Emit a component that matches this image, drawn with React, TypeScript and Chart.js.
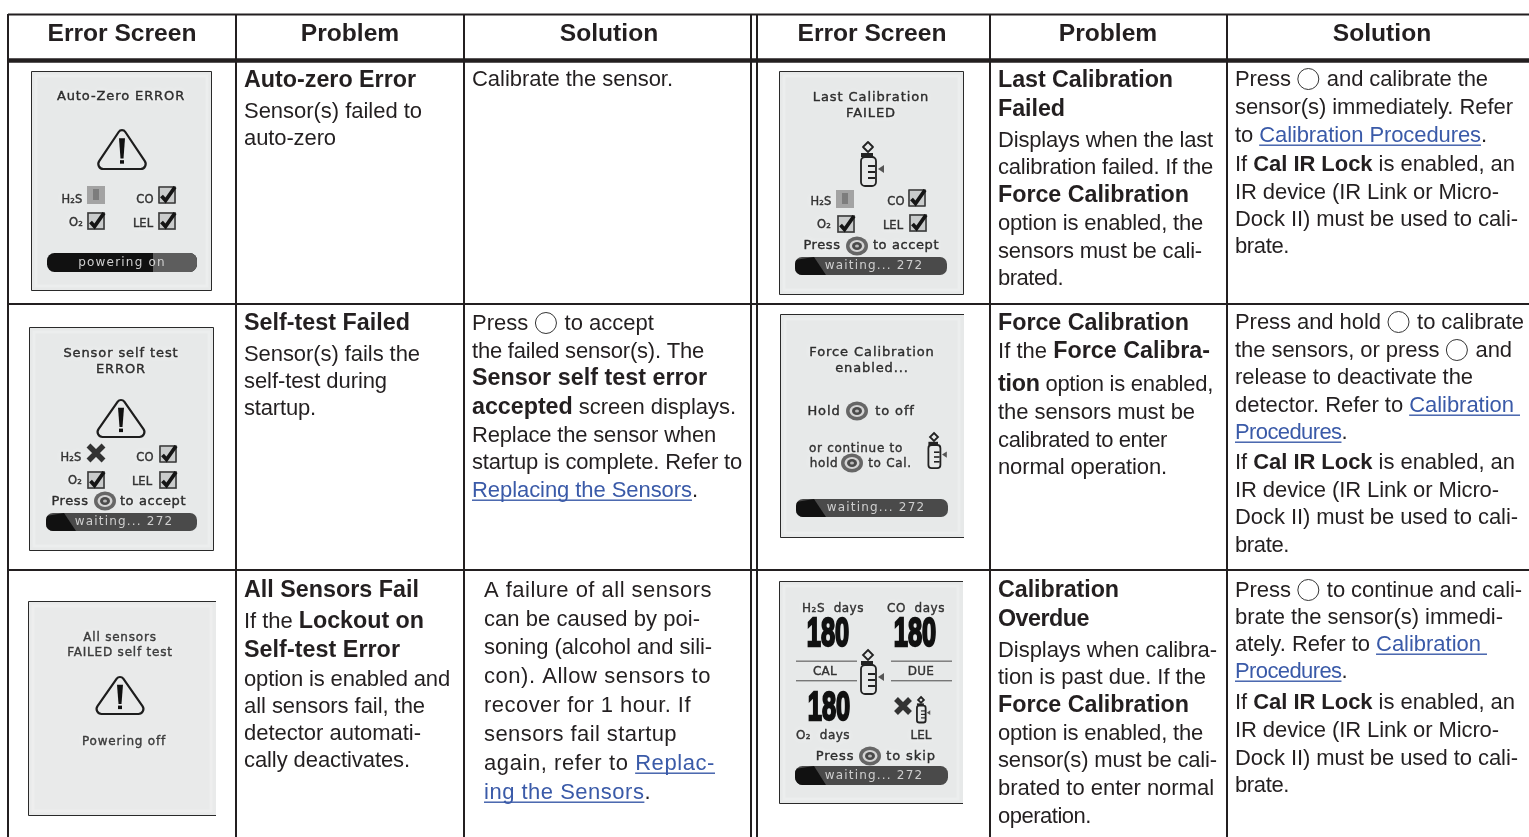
import React, { useEffect, useRef } from "react";
import { Chart, registerables } from "chart.js";

Chart.register(...registerables);

// ---- table content -------------------------------------------------------
const headerLabels = ["Error Screen", "Problem", "Solution", "Error Screen", "Problem", "Solution"];

const autoZeroProblem = ["**Auto-zero Error**", "Sensor(s) failed to", "auto-zero"];
const autoZeroSolution = ["Calibrate the sensor."];
const selfTestProblem = ["**Self-test Failed**", "Sensor(s) fails the", "self-test during", "startup."];
const selfTestSolution = [
  "Press @ to accept",
  "the failed sensor(s). The",
  "**Sensor self test error**",
  "**accepted** screen displays.",
  "Replace the sensor when",
  "startup is complete. Refer to",
  "[Replacing the Sensors].",
];
const allFailProblem = [
  "**All Sensors Fail**",
  "If the **Lockout on**",
  "**Self-test Error**",
  "option is enabled and",
  "all sensors fail, the",
  "detector automati-",
  "cally deactivates.",
];
const allFailSolution = [
  "A failure of all sensors",
  "can be caused by poi-",
  "soning (alcohol and sili-",
  "con). Allow sensors to",
  "recover for 1 hour. If",
  "sensors fail startup",
  "again, refer to [Replac-]",
  "[ing the Sensors].",
];
const lastCalProblem = [
  "**Last Calibration**",
  "**Failed**",
  "Displays when the last",
  "calibration failed. If the",
  "**Force Calibration**",
  "option is enabled, the",
  "sensors must be cali-",
  "brated.",
];
const lastCalSolution = [
  "Press @ and calibrate the",
  "sensor(s) immediately. Refer",
  "to [Calibration Procedures].",
  "If **Cal IR Lock** is enabled, an",
  "IR device (IR Link or Micro-",
  "Dock II) must be used to cali-",
  "brate.",
];
const forceCalProblem = [
  "**Force Calibration**",
  "If the **Force Calibra-**",
  "**tion** option is enabled,",
  "the sensors must be",
  "calibrated to enter",
  "normal operation.",
];
const forceCalSolution = [
  "Press and hold @ to calibrate",
  "the sensors, or press @ and",
  "release to deactivate the",
  "detector. Refer to [Calibration ]",
  "[Procedures].",
  "If **Cal IR Lock** is enabled, an",
  "IR device (IR Link or Micro-",
  "Dock II) must be used to cali-",
  "brate.",
];
const overdueProblem = [
  "**Calibration**",
  "**Overdue**",
  "Displays when calibra-",
  "tion is past due. If the",
  "**Force Calibration**",
  "option is enabled, the",
  "sensor(s) must be cali-",
  "brated to enter normal",
  "operation.",
];
const overdueSolution = [
  "Press @ to continue and cali-",
  "brate the sensor(s) immedi-",
  "ately. Refer to [Calibration ]",
  "[Procedures].",
  "If **Cal IR Lock** is enabled, an",
  "IR device (IR Link or Micro-",
  "Dock II) must be used to cali-",
  "brate.",
];

// ---- table geometry, kept apart from the content --------------------------
const verticalRules = [8, 236, 464, 751, 757, 990, 1227];
const horizontalRules = [304, 570];
const headerCenters = [122, 350, 609, 872, 1108, 1382];

// [lines, left x, baselines, bold size, right end of every line]
const cellLayout: [string[], number, number[], number, number[]][] = [
  [autoZeroProblem, 244, [87, 118, 145], 23.3, [416, 422, 336]],
  [autoZeroSolution, 472, [86], 23.3, [673]],
  [selfTestProblem, 244, [330, 361, 388, 415], 23.3, [410, 420, 387, 316]],
  [selfTestSolution, 472, [330, 358, 385, 414, 442, 469, 497], 23.3, [654, 704, 707, 736, 716, 742, 698]],
  [allFailProblem, 244, [597, 628, 657, 686, 713, 740, 767], 23.3, [419, 424, 400, 450, 425, 421, 410]],
  [allFailSolution, 484, [597, 626, 654, 683, 712, 741, 770, 799], 23.3, [712, 700, 712, 711, 691, 677, 715, 651]],
  [lastCalProblem, 998, [87, 116, 147, 174, 202, 230, 258, 285], 23.3, [1173, 1065, 1213, 1213, 1189, 1203, 1202, 1063]],
  [lastCalSolution, 1235, [86, 114, 142, 171, 199, 226, 253], 22, [1488, 1513, 1487, 1515, 1499, 1518, 1289]],
  [forceCalProblem, 998, [330, 358, 391, 419, 447, 474], 23.3, [1189, 1210, 1213, 1195, 1167, 1167]],
  [forceCalSolution, 1235, [329, 357, 384, 412, 439, 469, 497, 524, 552], 22, [1524, 1512, 1473, 1520, 1347, 1515, 1499, 1518, 1289]],
  [overdueProblem, 998, [597, 626, 657, 684, 712, 740, 767, 795, 823], 23.3, [1119, 1089, 1217, 1206, 1189, 1203, 1217, 1214, 1091]],
  [overdueSolution, 1235, [597, 624, 651, 678, 709, 737, 765, 792], 22, [1522, 1503, 1487, 1347, 1515, 1499, 1518, 1289]],
];

const INK = "#231f20";
const LINK = "#3a5aa8";
const SCREEN_FONT = '"DejaVu Sans"';

type Tx = (v: number) => number;

function drawRuns(ctx: CanvasRenderingContext2D, line: string, x0: number, y: number, boldSize: number, end: number) {
  const parts = line.split(/(\*\*[^*]+\*\*|\[[^\]]+\]|@)/).filter((p) => p !== "");
  const bodyFont = '22px "Liberation Sans"';
  const boldFont = `bold ${boldSize}px "Liberation Sans"`;
  (ctx as any).letterSpacing = "0px";
  let natural = 0;
  let chars = 0;
  for (const p of parts) {
    if (p === "@") {
      natural += 24;
      continue;
    }
    const bold = p.startsWith("**");
    const link = p.startsWith("[");
    const t = bold ? p.slice(2, -2) : link ? p.slice(1, -1) : p;
    ctx.font = bold ? boldFont : bodyFont;
    natural += ctx.measureText(t).width;
    chars += t.length;
  }
  const spacing = chars ? (end - x0 - natural) / chars : 0;
  (ctx as any).letterSpacing = `${spacing}px`;
  let x = x0;
  for (const p of parts) {
    if (p === "@") {
      ctx.beginPath();
      ctx.arc(x + 11.5, y - 7, 10.5, 0, Math.PI * 2);
      ctx.strokeStyle = "#333";
      ctx.lineWidth = 1;
      ctx.stroke();
      x += 24;
    } else if (p.startsWith("**")) {
      const t = p.slice(2, -2);
      ctx.font = boldFont;
      ctx.fillStyle = INK;
      ctx.fillText(t, x, y);
      x += ctx.measureText(t).width;
    } else if (p.startsWith("[")) {
      const t = p.slice(1, -1);
      ctx.font = bodyFont;
      ctx.fillStyle = LINK;
      ctx.fillText(t, x, y);
      const w = ctx.measureText(t).width;
      ctx.fillRect(x, y + 2.5, w, 1.4);
      x += w;
    } else {
      ctx.font = bodyFont;
      ctx.fillStyle = INK;
      ctx.fillText(p, x, y);
      x += ctx.measureText(p).width;
    }
  }
  (ctx as any).letterSpacing = "0px";
}

function label(ctx: CanvasRenderingContext2D, t: string, cx: number, cy: number, size = 13, color = "#2e2e2e", spacing = 0.9) {
  ctx.save();
  ctx.font = `${size}px ${SCREEN_FONT}`;
  (ctx as any).letterSpacing = `${spacing}px`;
  ctx.fillStyle = color;
  ctx.strokeStyle = color;
  ctx.lineWidth = 0.4;
  ctx.textAlign = "center";
  ctx.textBaseline = "middle";
  ctx.shadowColor = "rgba(255,255,255,0.9)";
  ctx.shadowBlur = 5;
  ctx.fillText(t, cx, cy + 1);
  ctx.shadowBlur = 0;
  ctx.strokeText(t, cx, cy + 1);
  ctx.restore();
}

function screenBox(ctx: CanvasRenderingContext2D, x0: number, y0: number, x1: number, y1: number, full: boolean, fill = "#e7e9e9") {
  ctx.fillStyle = fill;
  ctx.fillRect(x0, y0, x1 - x0, y1 - y0);
  ctx.strokeStyle = "rgba(255,255,255,0.22)";
  ctx.lineWidth = 3;
  ctx.strokeRect(x0 + 5, y0 + 5, x1 - x0 - 10, y1 - y0 - 10);
  ctx.strokeStyle = "#2a2a2a";
  ctx.lineWidth = 1;
  ctx.beginPath();
  if (full) {
    ctx.rect(x0 + 0.5, y0 + 0.5, x1 - x0 - 1, y1 - y0 - 1);
  } else {
    ctx.moveTo(x1, y0 + 0.5);
    ctx.lineTo(x0 + 0.5, y0 + 0.5);
    ctx.lineTo(x0 + 0.5, y1 - 0.5);
    ctx.lineTo(x1, y1 - 0.5);
  }
  ctx.stroke();
}

function warning(ctx: CanvasRenderingContext2D, cx: number, top: number, bottom: number, half: number) {
  ctx.strokeStyle = "#1d1d1d";
  ctx.lineWidth = 2.2;
  ctx.lineJoin = "round";
  const r = 5;
  ctx.beginPath();
  ctx.moveTo(cx, bottom);
  ctx.arcTo(cx - half, bottom, cx, top, r);
  ctx.arcTo(cx, top, cx + half, bottom, r - 1);
  ctx.arcTo(cx + half, bottom, cx, bottom, r);
  ctx.closePath();
  ctx.stroke();
  ctx.fillStyle = "#111";
  ctx.beginPath();
  const h = bottom - top;
  ctx.moveTo(cx - 3, top + h * 0.27);
  ctx.lineTo(cx + 3, top + h * 0.27);
  ctx.lineTo(cx + 1.5, top + h * 0.75);
  ctx.lineTo(cx - 1.5, top + h * 0.75);
  ctx.closePath();
  ctx.fill();
  ctx.fillRect(cx - 2, top + h * 0.79, 4, 3.5);
}

function checkBox(ctx: CanvasRenderingContext2D, x: number, y: number, s = 18) {
  ctx.fillStyle = "#c9cbcb";
  ctx.fillRect(x, y, s, s);
  ctx.strokeStyle = "#3a3a3a";
  ctx.lineWidth = 1.6;
  ctx.strokeRect(x + 1, y + 1, s - 2, s - 2);
  ctx.strokeStyle = "#151515";
  ctx.lineWidth = 3.8;
  ctx.lineJoin = "miter";
  ctx.beginPath();
  ctx.moveTo(x + 3.5, y + s * 0.55);
  ctx.lineTo(x + s * 0.42, y + s - 3.5);
  ctx.lineTo(x + s - 1, y + 1);
  ctx.stroke();
}

function deadBox(ctx: CanvasRenderingContext2D, x: number, y: number, s = 18) {
  ctx.fillStyle = "#a3a3a3";
  ctx.fillRect(x, y, s, s);
  ctx.fillStyle = "#7d7d7d";
  ctx.fillRect(x + s / 2 - 3, y + 3, 6, s - 7);
}

function crossMark(ctx: CanvasRenderingContext2D, cx: number, cy: number, r = 8) {
  ctx.strokeStyle = "#333";
  ctx.lineWidth = 5.5;
  ctx.beginPath();
  ctx.moveTo(cx - r, cy - r);
  ctx.lineTo(cx + r, cy + r);
  ctx.moveTo(cx + r, cy - r);
  ctx.lineTo(cx - r, cy + r);
  ctx.stroke();
}

function pressIcon(ctx: CanvasRenderingContext2D, cx: number, cy: number) {
  ctx.fillStyle = "#666";
  ctx.beginPath();
  ctx.ellipse(cx, cy, 11, 9.5, 0, 0, Math.PI * 2);
  ctx.fill();
  ctx.fillStyle = "#d4d4d4";
  ctx.beginPath();
  ctx.ellipse(cx, cy, 7.5, 6, 0, 0, Math.PI * 2);
  ctx.fill();
  ctx.fillStyle = "#4a4a4a";
  ctx.beginPath();
  ctx.ellipse(cx, cy, 5, 4, 0, 0, Math.PI * 2);
  ctx.fill();
  ctx.fillStyle = "#bbb";
  ctx.beginPath();
  ctx.ellipse(cx, cy, 2, 1.6, 0, 0, Math.PI * 2);
  ctx.fill();
}

function statusBar(ctx: CanvasRenderingContext2D, x0: number, x1: number, y0: number, y1: number, text: string, textX: number, split: number, leftDark: boolean) {
  const r = (y1 - y0) / 2 - 2;
  ctx.save();
  ctx.beginPath();
  ctx.roundRect(x0, y0, x1 - x0, y1 - y0, r);
  ctx.clip();
  ctx.fillStyle = leftDark ? "#111" : "#4a4a4a";
  ctx.fillRect(x0, y0, x1 - x0, y1 - y0);
  ctx.fillStyle = leftDark ? "#5d5d5d" : "#111";
  if (leftDark) {
    ctx.fillRect(split, y0, x1 - split, y1 - y0);
  } else {
    ctx.beginPath();
    ctx.moveTo(x0, y0 + 3);
    ctx.lineTo(split - 8, y0);
    ctx.lineTo(split + 4, y1);
    ctx.lineTo(x0, y1);
    ctx.closePath();
    ctx.fill();
  }
  ctx.restore();
  ctx.save();
  ctx.font = `12px ${SCREEN_FONT}`;
  (ctx as any).letterSpacing = "1.2px";
  ctx.fillStyle = "#cfcfcf";
  ctx.textAlign = "center";
  ctx.textBaseline = "middle";
  ctx.fillText(text, textX, (y0 + y1) / 2);
  ctx.restore();
}

function bottle(ctx: CanvasRenderingContext2D, cx: number, top: number, k = 1) {
  ctx.strokeStyle = "#222";
  ctx.lineWidth = 1.8;
  ctx.beginPath();
  ctx.moveTo(cx, top);
  ctx.lineTo(cx + 5 * k, top + 5 * k);
  ctx.lineTo(cx, top + 10 * k);
  ctx.lineTo(cx - 5 * k, top + 5 * k);
  ctx.closePath();
  ctx.stroke();
  ctx.fillStyle = "#222";
  ctx.fillRect(cx - 7 * k, top + 11 * k, 12 * k, 4 * k);
  ctx.beginPath();
  ctx.roundRect(cx - 7 * k, top + 15 * k, 15 * k, 29 * k, 4 * k);
  ctx.stroke();
  for (let i = 0; i < 3; i++) ctx.fillRect(cx, top + (23 + i * 6) * k, 7 * k, 2 * k);
  ctx.fillStyle = "#555";
  ctx.beginPath();
  ctx.moveTo(cx + 10 * k, top + 27 * k);
  ctx.lineTo(cx + 16 * k, top + 23 * k);
  ctx.lineTo(cx + 16 * k, top + 31 * k);
  ctx.closePath();
  ctx.fill();
}

function bigNumber(ctx: CanvasRenderingContext2D, t: string, cx: number, cy: number) {
  ctx.save();
  ctx.translate(cx, cy);
  ctx.scale(0.62, 1);
  ctx.font = 'bold 41px "Liberation Sans"';
  ctx.textAlign = "center";
  ctx.textBaseline = "middle";
  ctx.fillStyle = "#111";
  ctx.strokeStyle = "#111";
  ctx.lineWidth = 2.4;
  ctx.fillText(t, 0, 1);
  ctx.strokeText(t, 0, 1);
  ctx.restore();
}

function drawScreens(ctx: CanvasRenderingContext2D, X: Tx, Y: Tx) {
  ctx.save();
  (ctx as any).filter = "blur(0.55px)";

  // Auto-zero
  screenBox(ctx, X(31), Y(71), X(212), Y(291), true);
  label(ctx, "Auto-Zero ERROR", X(121), Y(96));
  warning(ctx, X(122), Y(127), Y(169), 28);
  label(ctx, "H₂S", X(72), Y(199), 11.5, "#333", 0.2);
  deadBox(ctx, X(87), Y(186));
  label(ctx, "CO", X(145), Y(199), 11.5, "#333", 0.2);
  checkBox(ctx, X(158), Y(186));
  label(ctx, "O₂", X(76), Y(222), 11.5, "#333", 0.2);
  checkBox(ctx, X(87), Y(212));
  label(ctx, "LEL", X(143), Y(223), 11.5, "#333", 0);
  checkBox(ctx, X(158), Y(212));
  statusBar(ctx, X(47), X(197), Y(253), Y(272), "powering on", X(122), X(153), true);

  // Self-test
  screenBox(ctx, X(29), Y(327), X(214), Y(551), true);
  label(ctx, "Sensor self test", X(121), Y(353));
  label(ctx, "ERROR", X(121), Y(369));
  warning(ctx, X(121), Y(397), Y(437), 28);
  label(ctx, "H₂S", X(71), Y(457), 11.5, "#333", 0.2);
  crossMark(ctx, X(96), Y(453), 7.5);
  label(ctx, "CO", X(145), Y(457), 11.5, "#333", 0.2);
  checkBox(ctx, X(159), Y(445));
  label(ctx, "O₂", X(75), Y(480), 11.5, "#333", 0.2);
  checkBox(ctx, X(87), Y(471));
  label(ctx, "LEL", X(142), Y(481), 11.5, "#333", 0);
  checkBox(ctx, X(159), Y(471));
  label(ctx, "Press", X(70), Y(501), 13, "#2e2e2e", 0.6);
  pressIcon(ctx, X(105), Y(501));
  label(ctx, "to accept", X(153), Y(501), 13, "#2e2e2e", 0.6);
  statusBar(ctx, X(46), X(197), Y(513), Y(531), "waiting... 272", X(124), X(72), false);

  // All sensors
  screenBox(ctx, X(28), Y(601), X(216), Y(816), false, "#e9eaea");
  label(ctx, "All sensors", X(120), Y(637), 12, "#3c3c3c", 0.8);
  label(ctx, "FAILED self test", X(120), Y(652), 12, "#3c3c3c", 0.8);
  warning(ctx, X(120), Y(674), Y(714), 28);
  label(ctx, "Powering off", X(124), Y(741), 12, "#3c3c3c", 0.8);

  // Last calibration
  screenBox(ctx, X(779), Y(71), X(964), Y(295), true);
  label(ctx, "Last Calibration", X(871), Y(97));
  label(ctx, "FAILED", X(871), Y(113));
  bottle(ctx, X(868), Y(142));
  label(ctx, "H₂S", X(821), Y(201), 11.5, "#333", 0.2);
  deadBox(ctx, X(836), Y(190));
  label(ctx, "CO", X(896), Y(201), 11.5, "#333", 0.2);
  checkBox(ctx, X(908), Y(189));
  label(ctx, "O₂", X(824), Y(224), 11.5, "#333", 0.2);
  checkBox(ctx, X(837), Y(215));
  label(ctx, "LEL", X(893), Y(225), 11.5, "#333", 0);
  checkBox(ctx, X(909), Y(214));
  label(ctx, "Press", X(822), Y(245), 13, "#2e2e2e", 0.6);
  pressIcon(ctx, X(857), Y(246));
  label(ctx, "to accept", X(906), Y(245), 13, "#2e2e2e", 0.6);
  statusBar(ctx, X(795), X(947), Y(257), Y(275), "waiting... 272", X(874), X(822), false);

  // Force calibration
  screenBox(ctx, X(780), Y(314), X(964), Y(538), false);
  label(ctx, "Force Calibration", X(872), Y(352));
  label(ctx, "enabled...", X(872), Y(368));
  label(ctx, "Hold", X(824), Y(411));
  pressIcon(ctx, X(857), Y(411));
  label(ctx, "to off", X(895), Y(411));
  label(ctx, "or continue to", X(856), Y(448), 12, "#333", 0.7);
  label(ctx, "hold", X(824), Y(463), 12, "#333", 0.7);
  pressIcon(ctx, X(852), Y(463));
  label(ctx, "to Cal.", X(890), Y(463), 12, "#333", 0.7);
  bottle(ctx, X(934), Y(433), 0.8);
  statusBar(ctx, X(796), X(948), Y(499), Y(517), "waiting... 272", X(876), X(822), false);

  // Calibration overdue
  screenBox(ctx, X(779), Y(581), X(963), Y(804), false);
  label(ctx, "H₂S  days", X(833), Y(608), 12, "#333", 0.5);
  label(ctx, "CO  days", X(916), Y(608), 12, "#333", 0.5);
  bigNumber(ctx, "180", X(828), Y(634));
  bigNumber(ctx, "180", X(915), Y(634));
  ctx.fillStyle = "#777";
  ctx.fillRect(X(796), Y(660.5), 61, 1.4);
  ctx.fillRect(X(891), Y(660.5), 61, 1.4);
  ctx.fillRect(X(796), Y(680), 61, 1.4);
  ctx.fillRect(X(891), Y(680), 61, 1.4);
  label(ctx, "CAL", X(825), Y(671), 12, "#333", 0.3);
  label(ctx, "DUE", X(921), Y(671), 12, "#333", 0.3);
  bottle(ctx, X(868), Y(650));
  bigNumber(ctx, "180", X(829), Y(708));
  crossMark(ctx, X(903), Y(706), 7);
  bottle(ctx, X(921), Y(697), 0.58);
  label(ctx, "O₂  days", X(823), Y(735), 12, "#333", 0.5);
  label(ctx, "LEL", X(921), Y(735), 12, "#333", 0);
  label(ctx, "Press", X(835), Y(756));
  pressIcon(ctx, X(870), Y(756));
  label(ctx, "to skip", X(911), Y(756));
  statusBar(ctx, X(795), X(948), Y(766), Y(785), "waiting... 272", X(874), X(822), false);

  ctx.restore();
}

const tablePlugin = {
  id: "tablePlugin",
  afterDatasetsDraw(chart: any) {
    const { ctx, scales } = chart;
    const X: Tx = (v) => scales.x.getPixelForValue(v);
    const Y: Tx = (v) => scales.y.getPixelForValue(v);
    ctx.save();
    ctx.textBaseline = "alphabetic";
    ctx.textAlign = "center";
    ctx.font = 'bold 24.6px "Liberation Sans"';
    ctx.fillStyle = INK;
    headerLabels.forEach((h, i) => ctx.fillText(h, X(headerCenters[i]), Y(41)));
    ctx.textAlign = "left";
    for (const [lines, x, ys, boldSize, ends] of cellLayout) {
      lines.forEach((line, i) => drawRuns(ctx, line, X(x), Y(ys[i]), boldSize, X(ends[i])));
    }
    drawScreens(ctx, X, Y);
    ctx.restore();
  },
};

function rule(x0: number, y0: number, x1: number, y1: number, w: number) {
  return {
    type: "scatter" as const,
    showLine: true,
    data: [{ x: x0, y: y0 }, { x: x1, y: y1 }],
    borderColor: INK,
    borderWidth: w,
    pointRadius: 0,
    clip: false,
  };
}

export default function App() {
  const ref = useRef<HTMLCanvasElement>(null);
  useEffect(() => {
    const datasets = [
      rule(8, 14.5, 1529, 14.5, 2),
      rule(8, 60.5, 1529, 60.5, 4.4),
      ...horizontalRules.map((y) => rule(8, y, 1529, y, 2)),
      ...verticalRules.map((x) => rule(x, 14, x, 837, 2)),
    ];
    const chart = new Chart(ref.current as HTMLCanvasElement, {
      type: "scatter",
      data: { datasets },
      options: {
        animation: false,
        responsive: false,
        events: [],
        layout: { padding: 0 },
        plugins: { legend: { display: false }, tooltip: { enabled: false }, title: { display: false } },
        scales: {
          x: { type: "linear", min: 0, max: 1529, display: false },
          y: { type: "linear", min: 0, max: 837, reverse: true, display: false },
        },
      },
      plugins: [tablePlugin],
    } as any);
    return () => chart.destroy();
  }, []);
  return (
    <div style={{ position: "absolute", left: 0, top: 0, width: 1529, height: 837, background: "#fff" }}>
      <canvas ref={ref} width={1529} height={837} style={{ display: "block" }} />
    </div>
  );
}
